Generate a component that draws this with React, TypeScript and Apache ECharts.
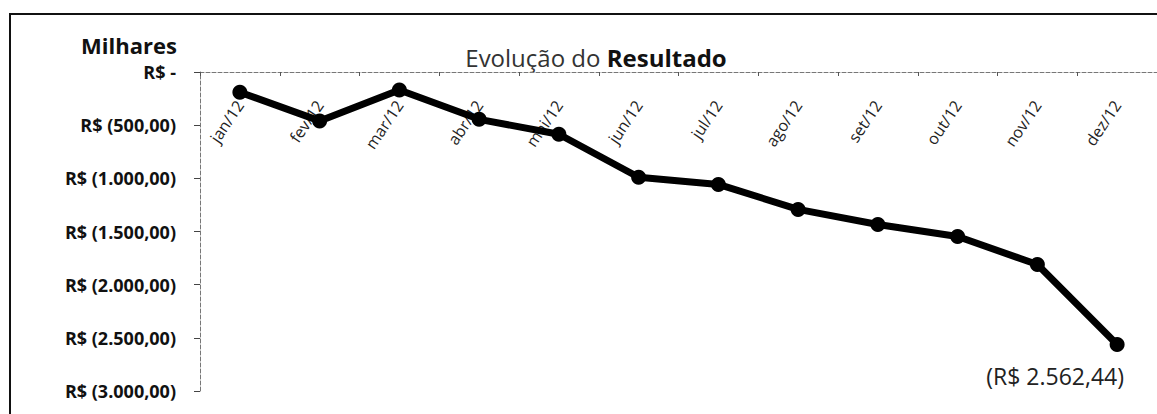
import React, { useEffect, useRef } from "react";
import * as echarts from "echarts";

const months = ["jan/12", "fev/12", "mar/12", "abr/12", "mai/12", "jun/12", "jul/12", "ago/12", "set/12", "out/12", "nov/12", "dez/12"];
const resultado = [-190, -460, -170, -445, -585, -990, -1057, -1292, -1434, -1547, -1811, -2562.44];
const yMin = -3000;
const yMax = 0;
const yStep = 500;

function fmtBR(v: number): string {
  const abs = Math.abs(v);
  const parts = abs.toFixed(2).split(".");
  const intPart = parts[0].replace(/\B(?=(\d{3})+(?!\d))/g, ".");
  return intPart + "," + parts[1];
}

export default function App() {
  const ref = useRef<HTMLDivElement>(null);
  useEffect(() => {
    if (!ref.current) return;
    const chart = echarts.init(ref.current, null, { renderer: "svg" });
    const font = "'Open Sans', 'Noto Sans', sans-serif";
    const last = resultado.length - 1;
    chart.setOption({
      animation: false,
      backgroundColor: "#ffffff",
      textStyle: { fontFamily: font },
      graphic: [
        {
          type: "rect",
          shape: { x: 10, y: 14, width: 1170, height: 420 },
          style: { fill: "none", stroke: "#111", lineWidth: 2 },
          silent: true,
        },
        {
          type: "text",
          x: 81,
          y: 45,
          style: { text: "Milhares", font: `bold 22px ${font}`, fill: "#111", verticalAlign: "middle" },
        },
        {
          type: "text",
          x: 596,
          y: 57,
          style: {
            text: "{n|Evolução do }{b|Resultado}",
            align: "center",
            verticalAlign: "middle",
            rich: {
              n: { fontSize: 24, fontFamily: font, fill: "#333", fontWeight: "normal" },
              b: { fontSize: 24, fontFamily: font, fill: "#111", fontWeight: "bold" },
            },
          },
        },
      ],
      grid: { left: 200, right: -5, top: 72, bottom: 23, containLabel: false },
      xAxis: {
        type: "category",
        data: months,
        position: "top",
        boundaryGap: true,
        axisLine: { show: true, onZero: false, lineStyle: { color: "#777", type: "dashed", width: 1 } },
        axisTick: { show: true, inside: true, length: 4, lineStyle: { color: "#555" } },
        axisLabel: {
          inside: true,
          rotate: -56,
          margin: 30,
          fontSize: 16,
          color: "#222",
          fontFamily: font,
        },
        splitLine: { show: false },
      },
      yAxis: {
        type: "value",
        min: yMin,
        max: yMax,
        interval: yStep,
        axisLine: { show: true, lineStyle: { color: "#777", type: "dashed", width: 1 } },
        axisTick: { show: true, inside: false, length: 6, lineStyle: { color: "#444" } },
        axisLabel: {
          margin: 24,
          fontSize: 18,
          fontWeight: "bold",
          color: "#111",
          fontFamily: font,
          formatter: (v: number) => (v === 0 ? "R$ -" : "R$ (" + fmtBR(v) + ")"),
        },
        splitLine: { show: false },
      },
      series: [
        {
          type: "line",
          data: resultado.map((v, i) =>
            i === last
              ? {
                  value: v,
                  label: {
                    show: true,
                    position: "bottom",
                    offset: [-62, 8],
                    fontSize: 23,
                    color: "#222",
                    fontFamily: font,
                    formatter: "(R$ " + fmtBR(v) + ")",
                  },
                }
              : v
          ),
          symbol: "circle",
          symbolSize: 15,
          lineStyle: { color: "#000", width: 7 },
          itemStyle: { color: "#000" },
        },
      ],
    });
    return () => chart.dispose();
  }, []);
  return <div ref={ref} style={{ position: "fixed", left: 0, top: 0, width: 1157, height: 414 }} />;
}
